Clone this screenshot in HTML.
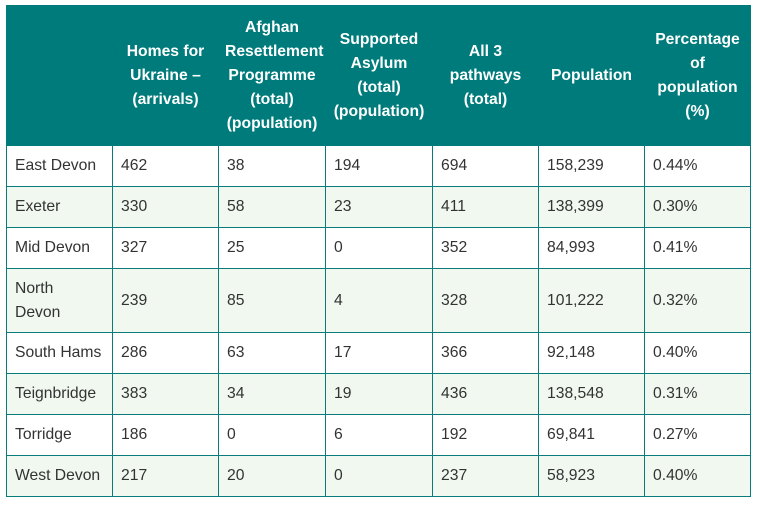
<!DOCTYPE html><html><head><style>
body{margin:0;background:#fff;font-family:"Liberation Sans",Arial,sans-serif;}
table{position:absolute;left:6px;top:5px;border-collapse:collapse;width:744px;table-layout:fixed;font-size:15.7px;color:#333;}
th{background:#007b7b;color:#fff;font-weight:bold;height:139px;padding:0 6px;text-align:center;line-height:24px;border:1px solid #007b7b;}
td{border:1.5px solid #0a7b7b;padding:0 8px;height:40px;line-height:24px;}
tr:nth-child(odd) td{background:#f0f8f0;}
</style></head><body>
<table>
<colgroup><col style="width:106px"><col style="width:106px"><col style="width:107px"><col style="width:107px"><col style="width:106px"><col style="width:106px"><col style="width:106px"></colgroup>
<tr><th></th><th>Homes for Ukraine – (arrivals)</th><th>Afghan Resettlement Programme (total) (population)</th><th>Supported Asylum (total) (population)</th><th>All 3 pathways (total)</th><th>Population</th><th>Percentage of population (%)</th></tr>
<tr><td>East Devon</td><td>462</td><td>38</td><td>194</td><td>694</td><td>158,239</td><td>0.44%</td></tr>
<tr><td>Exeter</td><td>330</td><td>58</td><td>23</td><td>411</td><td>138,399</td><td>0.30%</td></tr>
<tr><td>Mid Devon</td><td>327</td><td>25</td><td>0</td><td>352</td><td>84,993</td><td>0.41%</td></tr>
<tr><td style="height:63px">North<br>Devon</td><td>239</td><td>85</td><td>4</td><td>328</td><td>101,222</td><td>0.32%</td></tr>
<tr><td>South Hams</td><td>286</td><td>63</td><td>17</td><td>366</td><td>92,148</td><td>0.40%</td></tr>
<tr><td>Teignbridge</td><td>383</td><td>34</td><td>19</td><td>436</td><td>138,548</td><td>0.31%</td></tr>
<tr><td>Torridge</td><td>186</td><td>0</td><td>6</td><td>192</td><td>69,841</td><td>0.27%</td></tr>
<tr><td>West Devon</td><td>217</td><td>20</td><td>0</td><td>237</td><td>58,923</td><td>0.40%</td></tr>
</table>
</body></html>
